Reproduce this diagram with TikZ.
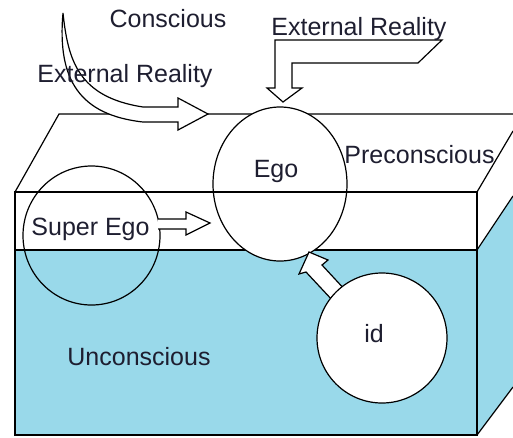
\documentclass[tikz,border=0pt]{standalone}
\usepackage{fontspec}
\setmainfont{Liberation Sans}
\usetikzlibrary{shapes.geometric}
\definecolor{water}{HTML}{99D9EA}
\definecolor{ink}{HTML}{1E1E30}
\begin{document}
\begin{tikzpicture}[x=1pt,y=-1pt, line width=1.2pt, line join=miter,
  lbl/.style={font=\fontsize{25}{30}\selectfont, text=ink, anchor=base, inner sep=0pt},
  blob/.style={draw, ellipse, inner sep=0pt, outer sep=0pt},
  blockarrow/.style={draw, fill=white}]
\useasboundingbox (0,0) rectangle (513,437);
% water fills
\fill[water] (15,250) rectangle (477,435);
\fill[water] (477,250) -- (513,196) -- (513,387) -- (477,435) -- cycle;
% box edges
\coordinate (ftl) at (15,192);
\coordinate (ftr) at (477,192);
\coordinate (fbl) at (15,435);
\coordinate (fbr) at (477,435);
\coordinate (wl) at (15,250);
\coordinate (wr) at (477,250);
\draw (ftl) -- (59,114) -- (513,114);
\draw (ftr) -- (513,131);
\draw (ftl) rectangle (fbr);
\draw (wl) -- (wr);
\draw (wr) -- (513,196);
\draw (fbr) -- (513,387);
% super ego circle (transparent)
\node[blob, minimum width=137pt, minimum height=139pt] (superC) at (91.5,235.5) {};
% ego circle (white)
\node[blob, fill=white, minimum width=134pt, minimum height=154pt] (egoC) at (280,184) {};
\draw (ftl) -- (ftr);
% curved arrow (left External Reality)
\draw[blockarrow] (63,13) .. controls (57,80) and (80,115) .. (143,122) -- (178,122) -- (178,130)
  -- (208,114) -- (178,98) -- (178,107) -- (143,107) .. controls (78,97) and (68,60) .. (63,13) -- cycle;
% bent arrow (right External Reality)
\draw[blockarrow] (275,40) -- (442,40) -- (418,63) -- (292,63) -- (292,88) -- (302,88)
  -- (283,102) -- (267,88) -- (275,88) -- cycle;
% super ego arrow
\path[fill=white] (158,219) -- (186,219) -- (186,212) -- (210,223) -- (186,235) -- (186,229) -- (158,229) -- cycle;
\draw (158,219) -- (186,219) -- (186,212) -- (210,223) -- (186,235) -- (186,229) -- (158,229);
% id arrow
\path[fill=white] (334,302) -- (306,272) -- (299,274) -- (309,252) -- (328,260) -- (322,265) -- (347,292) -- cycle;
\draw (334,302) -- (306,272) -- (299,274) -- (309,252) -- (328,260) -- (322,265) -- (347,292);
% id circle (white)
\node[blob, fill=white, minimum width=130pt, minimum height=130pt] (idC) at (382,338) {};
% labels
\node[lbl] (conscious) at (168,27) {Conscious};
\node[lbl] (extL) at (125,82) {External Reality};
\node[lbl] (extR) at (359,35) {External Reality};
\node[lbl] (ego) at (276,177) {Ego};
\node[lbl] (precon) at (419.5,163) {Preconscious};
\node[lbl] (superego) at (90.5,235) {Super Ego};
\node[lbl] (id) at (374,342) {id};
\node[lbl] (uncon) at (139,365) {Unconscious};
\end{tikzpicture}
\end{document}
